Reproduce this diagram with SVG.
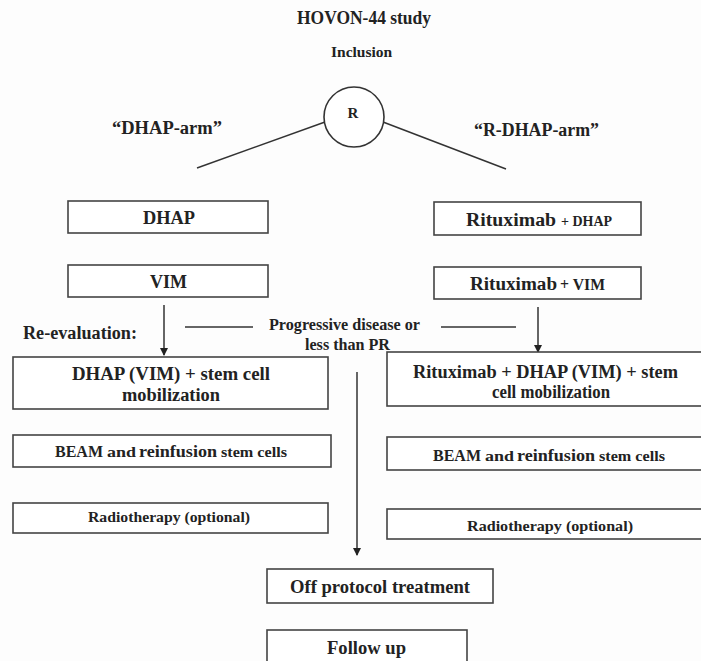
<svg xmlns="http://www.w3.org/2000/svg" width="701" height="661" viewBox="0 0 701 661">
<style>
text{font-family:"Liberation Serif","Times New Roman",serif;font-weight:bold;fill:#222}
.box{fill:#fff;stroke:#444;stroke-width:1.6}
.ln{stroke:#333;stroke-width:1.5;fill:none}
</style>
<defs>
<marker id="ah" markerWidth="8" markerHeight="10" refX="7" refY="4" orient="auto" markerUnits="userSpaceOnUse">
<path d="M0,0 L8,4 L0,8 Z" fill="#222"/>
</marker>
</defs>
<rect width="701" height="661" fill="#fdfdfd"/>
<g id="title">
<text x="297" y="24" font-size="18" textLength="134" lengthAdjust="spacingAndGlyphs">HOVON-44 study</text>
<text x="331" y="57" font-size="15.5">Inclusion</text>
</g>
<g id="connectors">
<line class="ln" x1="197" y1="168" x2="325" y2="122"/>
<line class="ln" x1="383" y1="122" x2="506" y2="169"/>
<line class="ln" x1="164" y1="305" x2="164" y2="355" marker-end="url(#ah)"/>
<line class="ln" x1="538" y1="307" x2="538" y2="352" marker-end="url(#ah)"/>
<line class="ln" x1="185" y1="327" x2="253" y2="327"/>
<line class="ln" x1="441" y1="327" x2="516" y2="327"/>
<line class="ln" x1="357" y1="372" x2="357" y2="555" marker-end="url(#ah)"/>
</g>
<g id="randomize">
<circle cx="354" cy="117" r="30" fill="#fff" stroke="#333" stroke-width="1.6"/>
<text x="353" y="118" font-size="15" text-anchor="middle">R</text>
</g>
<g id="arm-labels">
<text x="112" y="134" font-size="18" textLength="110" lengthAdjust="spacingAndGlyphs">“DHAP-arm”</text>
<text x="474" y="136" font-size="18" textLength="125" lengthAdjust="spacingAndGlyphs">“R-DHAP-arm”</text>
</g>
<g id="dhap">
<rect class="box" x="68" y="201" width="200" height="32"/>
<text x="143" y="224" font-size="18" textLength="52" lengthAdjust="spacingAndGlyphs">DHAP</text>
</g>
<g id="vim">
<rect class="box" x="68" y="265" width="200" height="32"/>
<text x="150" y="288" font-size="18" textLength="37" lengthAdjust="spacingAndGlyphs">VIM</text>
</g>
<g id="r-dhap">
<rect class="box" x="434" y="202" width="207" height="33"/>
<text x="466" y="226" font-size="18" textLength="90" lengthAdjust="spacingAndGlyphs">Rituximab</text>
<text x="561" y="226" font-size="14" textLength="51" lengthAdjust="spacingAndGlyphs">+ DHAP</text>
</g>
<g id="r-vim">
<rect class="box" x="434" y="267" width="207" height="32"/>
<text x="470" y="290" font-size="18" textLength="87" lengthAdjust="spacingAndGlyphs">Rituximab</text>
<text x="560" y="290" font-size="16" textLength="45" lengthAdjust="spacingAndGlyphs">+ VIM</text>
</g>
<g id="reevaluation">
<text x="23" y="339" font-size="18" textLength="114" lengthAdjust="spacingAndGlyphs">Re-evaluation:</text>
<text x="269" y="330" font-size="16" textLength="151" lengthAdjust="spacingAndGlyphs">Progressive disease or</text>
<text x="305" y="350" font-size="16" textLength="85" lengthAdjust="spacingAndGlyphs">less than PR</text>
</g>
<g id="mob-left">
<rect class="box" x="13" y="357" width="315" height="52"/>
<text x="72" y="380" font-size="18" textLength="198" lengthAdjust="spacingAndGlyphs">DHAP (VIM)  + stem cell</text>
<text x="122" y="401" font-size="18" textLength="98" lengthAdjust="spacingAndGlyphs">mobilization</text>
</g>
<g id="mob-right">
<rect class="box" x="387" y="352" width="320" height="54"/>
<text x="413" y="378" font-size="18" textLength="265" lengthAdjust="spacingAndGlyphs">Rituximab + DHAP (VIM) + stem</text>
<text x="492" y="398" font-size="18" textLength="118" lengthAdjust="spacingAndGlyphs">cell mobilization</text>
</g>
<g id="beam-left">
<rect class="box" x="13" y="435" width="318" height="32"/>
<text x="55" y="457" font-size="16" textLength="48" lengthAdjust="spacingAndGlyphs">BEAM</text>
<text x="107" y="457" font-size="14" textLength="29" lengthAdjust="spacingAndGlyphs">and</text>
<text x="139" y="457" font-size="17" textLength="78" lengthAdjust="spacingAndGlyphs">reinfusion</text>
<text x="221" y="457" font-size="14" textLength="66" lengthAdjust="spacingAndGlyphs">stem cells</text>
</g>
<g id="beam-right">
<rect class="box" x="387" y="437" width="320" height="33"/>
<text x="433" y="461" font-size="16" textLength="48" lengthAdjust="spacingAndGlyphs">BEAM</text>
<text x="485" y="461" font-size="14" textLength="29" lengthAdjust="spacingAndGlyphs">and</text>
<text x="517" y="461" font-size="17" textLength="78" lengthAdjust="spacingAndGlyphs">reinfusion</text>
<text x="599" y="461" font-size="14" textLength="66" lengthAdjust="spacingAndGlyphs">stem cells</text>
</g>
<g id="radio-left">
<rect class="box" x="13" y="503" width="315" height="30"/>
<text x="88" y="522" font-size="15" textLength="162" lengthAdjust="spacingAndGlyphs">Radiotherapy (optional)</text>
</g>
<g id="radio-right">
<rect class="box" x="387" y="509" width="320" height="30"/>
<text x="467" y="531" font-size="15" textLength="166" lengthAdjust="spacingAndGlyphs">Radiotherapy (optional)</text>
</g>
<g id="off-protocol">
<rect class="box" x="267" y="569" width="226" height="34"/>
<text x="290" y="593" font-size="18" textLength="180" lengthAdjust="spacingAndGlyphs">Off protocol treatment</text>
</g>
<g id="follow-up">
<rect class="box" x="267" y="630" width="200" height="36"/>
<text x="327" y="654" font-size="18" textLength="79" lengthAdjust="spacingAndGlyphs">Follow up</text>
</g>
</svg>
